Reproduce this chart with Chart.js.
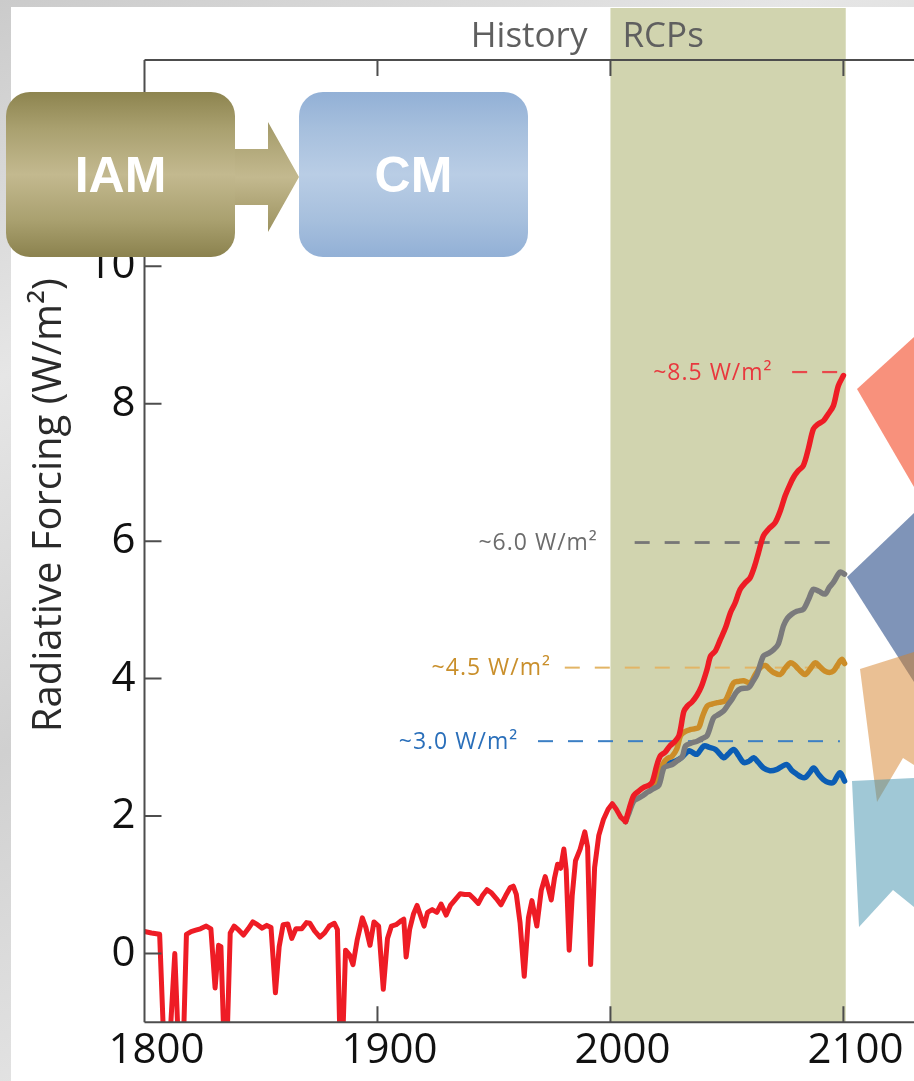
<!DOCTYPE html>
<html><head><meta charset="utf-8">
<script src="https://cdn.jsdelivr.net/npm/chart.js@4.4.1/dist/chart.umd.min.js"></script>
<style>
html,body{margin:0;padding:0;width:914px;height:1081px;overflow:hidden;}
body{position:relative;background:linear-gradient(155deg,#cbcbcb 0%,#e6e6e6 25%,#d0d0d0 50%,#e4e4e4 75%,#d3d3d3 100%);font-family:'Open Sans',sans-serif;}
#panel{position:absolute;left:11px;top:7px;width:903px;height:1074px;background:#fff;}
#wrap{position:absolute;left:0;top:0;width:914px;height:1081px;}
.box{position:absolute;top:92px;height:165px;width:229px;border-radius:24px;display:flex;align-items:center;justify-content:center;color:#fff;font:bold 50px 'Liberation Sans',Arial,sans-serif;}
#iam{left:6px;background:linear-gradient(180deg,#8d844f 0%,#a9a06f 22%,#c3b98f 50%,#a9a06f 78%,#8b824e 100%);}
#cm{left:299px;background:linear-gradient(180deg,#92b0d6 0%,#a6bfdd 22%,#b9cde5 50%,#a6bfdd 78%,#92b0d6 100%);}
#arrow{position:absolute;left:235px;top:122px;width:64px;height:110px;clip-path:polygon(0 27px,33px 27px,33px 0,64px 55px,33px 110px,33px 83px,0 83px);background:linear-gradient(180deg,#a39a68 0%,#c3b98f 50%,#9c925f 100%);}
</style></head>
<body>
<div id="panel"></div>
<div id="wrap"><canvas id="c" width="914" height="1081"></canvas></div>
<div id="iam" class="box">IAM</div>
<div id="arrow"></div>
<div id="cm" class="box">CM</div>
<script>
// ---------- data ----------
const histYears = [1800,1803,1806.5,1809.3,1813,1815.8,1818,1820,1822,1824,1826.5,1828.5,1830.3,1831.8,1832.8,1834.8,1836.8,1838.5,1840.5,1842.5,1844.5,1846.5,1848.5,1850.5,1852.5,1854.3,1856.2,1857.8,1859.5,1861.5,1863.2,1865,1867.5,1869.5,1871,1873,1875.3,1877.3,1879.3,1881.5,1882.8,1884.4,1886.3,1888,1889.5,1891.3,1893.5,1895,1896.8,1898.5,1900.5,1902.5,1904.3,1906,1908,1910.3,1911.3,1912.3,1913.8,1915.5,1917,1918.8,1920,1921.5,1923.5,1925.5,1927.3,1929.5,1931.3,1933.3,1935.5,1937.5,1939.5,1941.3,1943.3,1945,1947,1949,1951,1953,1955,1957,1958.3,1959.6,1961.2,1963,1964.8,1966.3,1968.4,1970.3,1972,1973.3,1974.6,1976,1977.3,1978.6,1980,1981,1982.3,1983.6,1985,1987,1989,1990.2,1991.5,1993.2,1995,1997,1999,2000.8,2002.5,2004.5,2006.5];
const histValues = [0.32,0.30,0.28,-2.2,0.0,-2.4,0.28,0.32,0.34,0.36,0.40,0.36,-0.50,0.12,0.10,-2.0,0.30,0.40,0.34,0.27,0.36,0.46,0.42,0.37,0.41,0.38,-0.57,0.10,0.42,0.43,0.22,0.36,0.36,0.45,0.44,0.33,0.24,0.30,0.40,0.44,0.35,-2.0,0.05,-0.02,-0.16,0.20,0.52,0.38,0.12,0.46,0.40,-0.52,0.22,0.40,0.42,0.48,0.50,-0.05,0.35,0.58,0.70,0.52,0.40,0.60,0.64,0.60,0.72,0.56,0.70,0.78,0.87,0.86,0.86,0.80,0.73,0.84,0.93,0.88,0.80,0.71,0.84,0.96,0.98,0.86,0.45,-0.33,0.52,0.77,0.40,0.92,1.12,0.96,0.78,1.10,1.30,1.24,1.52,1.22,0.05,0.85,1.35,1.52,1.77,1.55,-0.16,1.25,1.72,1.95,2.10,2.18,2.10,1.98,1.92];

const rcp85Years = [2006.5,2008,2010,2012,2014.5,2016.5,2018,2020,2021.5,2023.5,2025.5,2027.5,2029.5,2031.5,2033,2035,2037,2039,2041.5,2043,2045,2047.2,2049.5,2051.5,2053.5,2055.7,2058,2060,2062,2063.6,2065.7,2068,2070.7,2073,2075,2077,2078.6,2080.5,2082.8,2085,2087.1,2089,2091.4,2093.5,2095.7,2097.8,2100];
const rcp85Values = [1.92,2.10,2.30,2.36,2.42,2.45,2.50,2.75,2.88,2.93,3.02,3.08,3.18,3.52,3.60,3.66,3.75,3.88,4.14,4.33,4.40,4.57,4.75,4.96,5.10,5.30,5.40,5.47,5.65,5.84,6.08,6.18,6.27,6.45,6.66,6.82,6.93,7.02,7.10,7.35,7.63,7.70,7.75,7.85,7.97,8.26,8.41];

const rcp6Years = [2006.5,2008,2010,2012,2014,2016,2018.5,2020.8,2022.9,2024.5,2026.5,2028.5,2030.8,2032.2,2034.5,2037.2,2039.5,2041.5,2044.3,2046.5,2048.6,2050.5,2052.2,2054,2055.8,2059.3,2061,2062.9,2065.7,2068,2070,2072,2074.3,2076,2077.9,2080,2082.8,2085,2087.1,2089.5,2092.1,2094,2095.7,2098.6,2100.5];
const rcp6Values = [1.92,2.05,2.22,2.26,2.30,2.35,2.40,2.45,2.70,2.73,2.75,2.80,2.86,3.02,3.06,3.09,3.13,3.17,3.43,3.48,3.53,3.62,3.70,3.80,3.85,3.87,3.95,4.06,4.33,4.37,4.42,4.50,4.77,4.88,4.94,4.98,5.01,5.15,5.30,5.27,5.23,5.33,5.40,5.55,5.52];

const rcp45Years = [2018.5,2020.5,2022.9,2024.5,2026.4,2028.5,2030.1,2032,2034.4,2036,2037.9,2039.5,2041.5,2043.5,2045.8,2047.5,2049.3,2051,2052.9,2055,2057.2,2060,2062,2064.3,2066.5,2068.5,2070,2072.9,2075,2077.2,2079,2080.7,2083.6,2085.5,2087.9,2090,2092.1,2094,2095.7,2097.5,2099.3,2100.5];
const rcp45Values = [2.45,2.60,2.78,2.84,2.87,2.98,3.17,3.23,3.26,3.27,3.29,3.45,3.60,3.63,3.65,3.66,3.68,3.80,3.94,3.96,3.97,3.94,4.05,4.16,4.19,4.13,4.09,4.06,4.15,4.23,4.20,4.14,4.06,4.13,4.23,4.17,4.11,4.09,4.11,4.20,4.28,4.22];

const rcp26Years = [2018.5,2021,2023.7,2026,2028,2030.5,2033.7,2035.5,2037.2,2040.1,2042.5,2045.1,2048.6,2050.5,2052.9,2055,2057.2,2059.5,2061.5,2063.5,2065.7,2068.5,2071.5,2073.5,2075.7,2078,2080,2081.8,2083.6,2085.5,2087.2,2089.5,2091.4,2093.5,2095.7,2097,2098.6,2100.5];
const rcp26Values = [2.45,2.60,2.75,2.78,2.80,2.85,2.95,2.92,2.90,3.02,3.00,2.97,2.85,2.90,2.97,2.88,2.78,2.80,2.85,2.78,2.70,2.66,2.68,2.72,2.75,2.66,2.61,2.57,2.56,2.63,2.70,2.60,2.53,2.49,2.49,2.56,2.63,2.51];

const refLevels = [8.46, 5.98, 4.16, 3.09];
const refLabels = ['~8.5 W/m²', '~6.0 W/m²', '~4.5 W/m²', '~3.0 W/m²'];
const refStartYears = [2078, 2010.4, 1980.4, 1968.9];
const refEndYear = 2098.5;
const refLabelEndYears = [2069.6, 1994.6, 1974.5, 1960.4];

const xTickValues = [1800, 1900, 2000, 2100];
const yTickValues = [0, 2, 4, 6, 8, 10, 12];
const periodYears = [2000, 2101];
const periodLabels = ['History', 'RCPs'];
const yTitle = 'Radiative Forcing (W/m²)';

// ---------- build ----------
const zip = (xs, ys) => xs.map((x, i) => ({x, y: ys[i]}));
const lineDs = (label, xs, ys, color, order, w, tension) => ({
  label, data: zip(xs, ys), borderColor: color, borderWidth: w, pointRadius: 0,
  tension, borderJoinStyle: 'round', borderCapStyle: 'round', order, clip: 0, fill: false
});
const refColors = ['#e8474b', '#777777', '#e2b566', '#3b7fc4'];
const refWidths = [2.2, 2.8, 2, 2];
const datasets = [
  lineDs('RCP8.5', rcp85Years, rcp85Values, '#ee1c25', 0, 5.5, 0.3),
  lineDs('History', histYears, histValues, '#ee1c25', 1, 5, 0),
  lineDs('RCP6', rcp6Years, rcp6Values, '#7a7a7c', 2, 5.5, 0.3),
  lineDs('RCP4.5', rcp45Years, rcp45Values, '#cc8d28', 3, 5.5, 0.35),
  lineDs('RCP2.6', rcp26Years, rcp26Values, '#0b5db4', 4, 5.5, 0.35)
];
refLevels.forEach((lv, i) => {
  datasets.push({
    label: refLabels[i], data: [{x: refStartYears[i], y: lv}, {x: refEndYear, y: lv}],
    borderColor: refColors[i], borderWidth: refWidths[i], borderDash: [15, 15],
    pointRadius: 0, order: 10 + i, fill: false
  });
});

const refTextColors = ['#e8383e', '#6c6c6c', '#c98f2b', '#2a6fba'];

const decor = {
  id: 'decor',
  beforeDatasetsDraw(chart) {
    const {ctx, chartArea: a, scales: {x}} = chart;
    const x1 = x.getPixelForValue(periodYears[0]);
    const x2 = x.getPixelForValue(periodYears[1]);
    ctx.save();
    ctx.fillStyle = '#d1d4af';
    ctx.fillRect(x1, a.top - 52, x2 - x1, a.bottom - a.top + 52);
    ctx.font = '35px "Open Sans"';
    ctx.fillStyle = '#5f5f5f';
    ctx.textBaseline = 'alphabetic';
    ctx.textAlign = 'right';
    ctx.fillText(periodLabels[0], x1 - 23, a.top - 13);
    ctx.textAlign = 'left';
    ctx.fillText(periodLabels[1], x1 + 12, a.top - 13);
    ctx.restore();
  },
  afterDatasetsDraw(chart) {
    const {ctx, chartArea: a, scales: {x, y}} = chart;
    ctx.save();
    ctx.strokeStyle = '#4d4d4d';
    ctx.lineWidth = 2;
    ctx.beginPath();
    ctx.moveTo(a.left, a.bottom); ctx.lineTo(chart.width, a.bottom);
    ctx.moveTo(a.left, a.top); ctx.lineTo(chart.width, a.top);
    ctx.moveTo(a.left, a.top); ctx.lineTo(a.left, a.bottom);
    xTickValues.forEach(v => {
      const px = x.getPixelForValue(v);
      ctx.moveTo(px, a.bottom); ctx.lineTo(px, a.bottom - 16);
      ctx.moveTo(px, a.top); ctx.lineTo(px, a.top + 16);
    });
    yTickValues.forEach(v => {
      const py = y.getPixelForValue(v);
      ctx.moveTo(a.left, py); ctx.lineTo(a.left + 17, py);
    });
    ctx.stroke();
    // reference labels
    ctx.font = '23px "Open Sans"';
    if ('letterSpacing' in ctx) ctx.letterSpacing = '1px';
    ctx.textAlign = 'right';
    ctx.textBaseline = 'middle';
    refLabels.forEach((t, i) => {
      ctx.fillStyle = refTextColors[i];
      ctx.fillText(t, x.getPixelForValue(refLabelEndYears[i]), y.getPixelForValue(refLevels[i]) + 1);
    });
    ctx.restore();
  },
  afterDraw(chart) {
    const {ctx, chartArea: a} = chart;
    ctx.save();
    // y-axis title
    ctx.translate(50, (a.top + a.bottom) / 2 - 36);
    ctx.rotate(-Math.PI / 2);
    ctx.font = '40px "Open Sans"';
    ctx.fillStyle = '#2a2a2a';
    ctx.textAlign = 'center';
    ctx.textBaseline = 'middle';
    ctx.fillText(yTitle, 0, 0);
    ctx.restore();
    // decorative shapes on the right
    const W = chart.width;
    const poly = (pts, color) => {
      ctx.beginPath();
      pts.forEach((p, i) => i ? ctx.lineTo(p[0], p[1]) : ctx.moveTo(p[0], p[1]));
      ctx.closePath(); ctx.fillStyle = color; ctx.fill();
    };
    ctx.save();
    poly([[857, 389], [W, 337], [W, 487]], '#f8917c');
    poly([[847, 577], [W, 513], [W, 682]], '#7f94b8');
    poly([[860, 669], [W, 652], [W, 765], [903, 758], [877, 802]], 'rgba(213,129,41,0.5)');
    poly([[852, 781], [W, 778], [W, 907], [893, 890], [859, 927]], 'rgba(65,145,173,0.5)');
    ctx.restore();
  }
};

new Chart(document.getElementById('c'), {
  type: 'line',
  data: {datasets},
  options: {
    responsive: false, animation: false,
    layout: {padding: {top: 60, right: 0, bottom: 0, left: 0}},
    plugins: {legend: {display: false}, tooltip: {enabled: false}},
    scales: {
      x: {
        type: 'linear', min: 1800, max: 2130.3,
        afterBuildTicks: s => { s.ticks = xTickValues.map(v => ({value: v})); },
        afterFit: s => { s.height = 58.7; },
        grid: {display: false, drawTicks: false}, border: {display: false},
        ticks: {font: {family: 'Open Sans', size: 42}, color: '#111', padding: 4, labelOffset: 12,
                maxRotation: 0, autoSkip: false, callback: v => String(v)}
      },
      y: {
        type: 'linear', min: -1, max: 13,
        afterBuildTicks: s => { s.ticks = yTickValues.map(v => ({value: v})); },
        afterFit: s => { s.width = 144.5; },
        grid: {display: false, drawTicks: false}, border: {display: false},
        ticks: {font: {family: 'Open Sans', size: 42}, color: '#111', padding: 9, callback: v => String(v)}
      }
    }
  },
  plugins: [decor]
});
</script>
</body></html>
